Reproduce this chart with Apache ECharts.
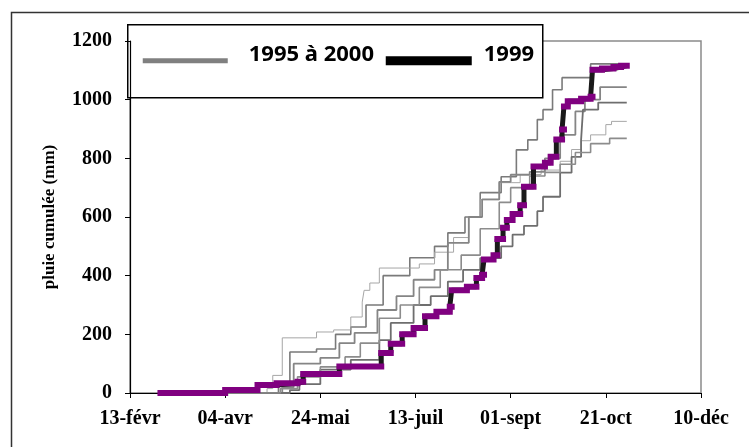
<!DOCTYPE html>
<html><head><meta charset="utf-8">
<script src="https://cdn.jsdelivr.net/npm/echarts@6/dist/echarts.min.js"></script>
<style>html,body{margin:0;padding:0;background:#fff}#c{width:749px;height:447px}</style>
</head><body><div id="c"></div>
<script>
// x values: days since 13-févr
const xTickLabels = ['13-févr','04-avr','24-mai','13-juil','01-sept','21-oct','10-déc'];
const legendLabels = ['1995 à 2000','1999'];

// 1999 (black line with purple markers)
const y1999Days = [16,50,67,77,88,91,110,132,137,143,149,155,161,168,169,177,182,185,186,191,193,196,198,201,205,207,212,218,221,224,227,228,230,237,242,243,248,254,258,261];
const y1999Cum  = [0,10,27,33,38,65,90,136,168,200,222,262,277,294,350,362,392,403,455,470,525,563,590,610,640,703,772,785,805,864,898,977,995,1003,1010,1102,1106,1111,1116,1116];

// other years (grey)
const yA_Days = [16,78,84,98,108,116,124,133,147,160,167,176,184,195,203,209,214,217,222,227,242,261];
const yA_Cum  = [0,30,140,150,200,225,300,400,461,500,546,600,683,737,829,863,932,966,1034,1075,1122,1122];
const yB_Days = [16,72,75,80,98,107,116,122,123,126,131,152,160,170,178,184,194,205,216,226,232,237,242,250,253,261];
const yB_Cum  = [0,15,60,188,208,215,259,310,350,375,426,440,480,530,600,659,717,745,760,790,830,860,880,915,926,926];
const yC_Days = [16,80,86,100,110,118,130,140,149,160,167,178,185,194,200,210,218,226,234,239,247,261];
const yC_Cum  = [0,20,100,120,170,205,283,330,386,420,512,600,660,720,744,754,800,880,960,1000,1043,1043];
const yD_Days = [16,84,89,100,116,131,137,149,158,167,175,184,195,201,207,214,217,226,232,237,238,246,261];
const yD_Cum  = [0,10,30,80,113,180,239,300,330,380,420,460,500,540,570,620,669,751,805,863,966,990,990];
const yE_Days = [16,79,88,100,113,121,131,142,152,163,174,184,194,200,210,218,226,234,242,252,261];
const yE_Cum  = [0,15,55,89,123,170,255,300,360,420,470,560,650,700,740,752,780,820,850,868,868];

function pts(d, c){ return d.map((v,i)=>[v,c[i]]); }
function horiz(d, c){
  const out=[];
  for(let i=0;i<d.length-1;i++){ out.push([d[i],c[i]]); out.push([d[i+1],c[i]]); out.push([d[i+1],'-']); }
  return out;
}
const greys = [
  {d:yA_Days,c:yA_Cum,color:'#7a7a7a',w:1.6},
  {d:yB_Days,c:yB_Cum,color:'#a6a6a6',w:1},
  {d:yC_Days,c:yC_Cum,color:'#858585',w:1.8},
  {d:yD_Days,c:yD_Cum,color:'#6e6e6e',w:1.8},
  {d:yE_Days,c:yE_Cum,color:'#8c8c8c',w:1.6},
  {d:y1999Days,c:y1999Cum,color:'#808080',w:1.6}
];
const series = greys.map(g=>({
  type:'line', step:'end', showSymbol:false, silent:true, animation:false,
  data:pts(g.d,g.c), lineStyle:{color:g.color,width:g.w}
}));
series.push({type:'line', step:'end', showSymbol:false, animation:false,
  data:pts(y1999Days,y1999Cum), lineStyle:{color:'#1a1a1a',width:5}});
series.push({type:'line', showSymbol:false, animation:false, connectNulls:false,
  data:horiz(y1999Days,y1999Cum), lineStyle:{color:'#800080',width:6,cap:'square'}});

const chart = echarts.init(document.getElementById('c'));
const lblFont = {fontFamily:'Liberation Serif', fontWeight:'bold', fontSize:20, color:'#000'};
chart.setOption({
  animation:false,
  grid:{left:130,right:48,top:41,bottom:54,show:true,borderColor:'#8a8a8a',borderWidth:1.5,backgroundColor:'transparent'},
  xAxis:{type:'value',min:0,max:300,interval:50,
    axisLine:{lineStyle:{color:'#000',width:1.2}},
    axisTick:{show:true,length:5,inside:false,lineStyle:{color:'#000'}},
    splitLine:{show:false},
    axisLabel:Object.assign({margin:16,formatter:v=>xTickLabels[Math.round(v/50)]},lblFont)},
  yAxis:{type:'value',min:0,max:1200,interval:200,
    name:'pluie cumulée (mm)',nameLocation:'middle',nameGap:72,
    nameTextStyle:{fontFamily:'Liberation Serif',fontWeight:'bold',fontSize:17,color:'#000'},
    axisLine:{show:true,lineStyle:{color:'#000',width:1.2}},
    axisTick:{show:true,length:5,lineStyle:{color:'#000'}},
    splitLine:{show:false},
    axisLabel:Object.assign({margin:18,formatter:v=>String(v)},lblFont)},
  series:series,
  graphic:[
    {type:'rect',left:9,top:10,shape:{x:0,y:0,width:800,height:500},style:{fill:'none',stroke:'#333',lineWidth:1.5},z:100,silent:true},
    {type:'group',left:127,top:24,z:100,children:[
      {type:'rect',shape:{x:0,y:0,width:415,height:73},style:{fill:'#fff',stroke:'#000',lineWidth:1.5}},
      {type:'rect',shape:{x:15,y:33.5,width:85,height:5},style:{fill:'#808080'}},
      {type:'text',x:121,y:30,style:{text:legendLabels[0],font:'bold 22px "Noto Sans"',fill:'#000',verticalAlign:'middle',align:'left'}},
      {type:'rect',shape:{x:258,y:31.5,width:86,height:9},style:{fill:'#000'}},
      {type:'text',x:356,y:30,style:{text:legendLabels[1],font:'bold 22px "Noto Sans"',fill:'#000',verticalAlign:'middle',align:'left'}}
    ]}
  ]
});
</script></body></html>
